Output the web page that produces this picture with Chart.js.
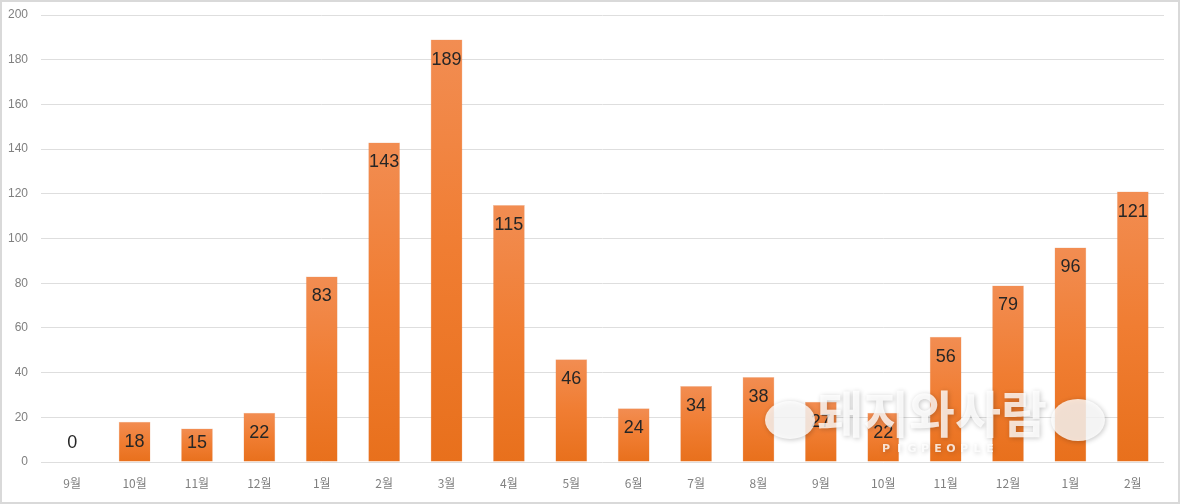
<!DOCTYPE html>
<html lang="ko">
<head>
<meta charset="utf-8">
<script src="https://cdn.jsdelivr.net/npm/chart.js@4/dist/chart.umd.min.js"></script>
<style>
  html, body { margin: 0; padding: 0; background: #ffffff; }
  #wrap { width: 1180px; height: 504px; position: relative; }
</style>
</head>
<body>
<div id="wrap"><canvas id="c" width="1180" height="504"></canvas></div>
<script>
// Monthly counts, September through February of the second year after
const months = ['9월', '10월', '11월', '12월', '1월', '2월', '3월', '4월', '5월', '6월',
                '7월', '8월', '9월', '10월', '11월', '12월', '1월', '2월'];
const counts = [0, 18, 15, 22, 83, 143, 189, 115, 46, 24, 34, 38, 27, 22, 56, 79, 96, 121];
const yTicks = [0, 20, 40, 60, 80, 100, 120, 140, 160, 180, 200];

// Per-bar vertical gradient: lighter at the top, deeper orange at the base
function barGradient(ctx) {
  const chart = ctx.chart;
  const area = chart.chartArea;
  if (!area || ctx.type !== 'data') return '#ee7b30';
  const y = chart.scales.y;
  const top = y.getPixelForValue(ctx.parsed ? ctx.parsed.y : counts[ctx.dataIndex]);
  const base = y.getPixelForValue(0);
  if (!isFinite(top) || base - top < 1) return '#e8711c';
  const g = chart.ctx.createLinearGradient(0, top, 0, base);
  g.addColorStop(0, '#f28d52');
  g.addColorStop(0.5, '#f07d32');
  g.addColorStop(1, '#e8701c');
  return g;
}

// Value labels placed just inside the top of each bar
const valueLabels = {
  id: 'valueLabels',
  afterDatasetsDraw(chart) {
    const ctx = chart.ctx;
    const meta = chart.getDatasetMeta(0);
    const base = chart.scales.y.getPixelForValue(0);
    ctx.save();
    ctx.font = '18px "Liberation Sans", "DejaVu Sans", sans-serif';
    ctx.fillStyle = '#262626';
    ctx.textAlign = 'center';
    ctx.textBaseline = 'middle';
    meta.data.forEach((bar, i) => {
      const y = Math.min(bar.y + 20, base - 19);
      ctx.fillText(String(counts[i]), bar.x, y);
    });
    ctx.restore();
  }
};

// Publisher mark laid over the lower right of the plot
const publisherMark = {
  id: 'publisherMark',
  afterDraw(chart) {
    const ctx = chart.ctx;
    ctx.save();
    ctx.fillStyle = 'rgba(255,255,255,0.8)';
    ctx.shadowColor = 'rgba(0,0,0,0.28)';
    ctx.shadowBlur = 5;
    ctx.shadowOffsetX = 1;
    ctx.shadowOffsetY = 1;
    ctx.beginPath();
    ctx.ellipse(790, 420, 25, 19, 0, 0, Math.PI * 2);
    ctx.fill();
    ctx.beginPath();
    ctx.ellipse(1078, 420, 27, 21, 0, 0, Math.PI * 2);
    ctx.fill();
    ctx.font = 'bold 50px "Noto Sans CJK KR", sans-serif';
    ctx.textAlign = 'center';
    ctx.textBaseline = 'middle';
    ctx.fillText('돼지와사람', 932, 414);
    ctx.font = 'bold 11px "DejaVu Sans", sans-serif';
    const word = 'PIGPEOPLE';
    for (let i = 0; i < word.length; i++) {
      ctx.fillText(word[i], 886 + i * 13, 449);
    }
    ctx.restore();
  }
};

// Thin frame around the whole chart
const frame = {
  id: 'frame',
  afterDraw(chart) {
    const ctx = chart.ctx;
    ctx.save();
    ctx.strokeStyle = '#d9d9d9';
    ctx.lineWidth = 2;
    ctx.strokeRect(1, 1, chart.width - 2, chart.height - 2);
    ctx.restore();
  }
};

new Chart(document.getElementById('c'), {
  type: 'bar',
  data: {
    labels: months,
    datasets: [{
      data: counts,
      backgroundColor: barGradient,
      borderColor: 'rgba(200,90,20,0.35)',
      borderWidth: 0.5,
      barPercentage: 0.85,
      categoryPercentage: 0.6
    }]
  },
  options: {
    responsive: false,
    animation: false,
    layout: { padding: { top: 15, right: 16, left: 0, bottom: 0 } },
    plugins: {
      legend: { display: false },
      tooltip: { enabled: false }
    },
    scales: {
      x: {
        grid: { display: false, drawTicks: false },
        border: { display: false },
        ticks: {
          color: '#808080',
          font: { size: 12, family: '"Noto Sans CJK KR", sans-serif' },
          padding: 14,
          maxRotation: 0
        },
        afterFit(scale) { scale.height = 42; }
      },
      y: {
        min: 0,
        max: 200,
        afterBuildTicks(scale) { scale.ticks = yTicks.map(v => ({ value: v })); },
        grid: { color: '#dedede', lineWidth: 1, drawTicks: false },
        border: { display: false },
        ticks: {
          color: '#808080',
          font: { size: 12, family: '"Liberation Sans", sans-serif' },
          padding: 13
        },
        afterFit(scale) {
          scale.width = 41;
          scale.paddingTop = 7;
          scale.paddingBottom = 7;
        }
      }
    }
  },
  plugins: [valueLabels, publisherMark, frame]
});
</script>
</body>
</html>
